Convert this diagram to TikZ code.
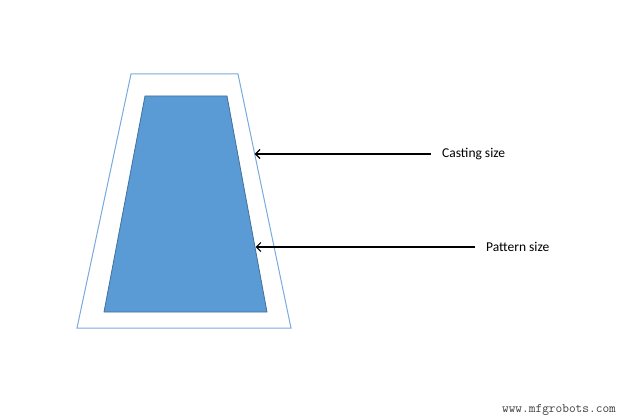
\documentclass[tikz,border=0pt]{standalone}
\usepackage{fontspec}
\setmainfont{Carlito}
\usepackage[x11names]{xcolor}
\usetikzlibrary{arrows.meta}
\tikzset{>={Straight Barb[length=4.5pt,width=9pt]}}
\definecolor{fillblue}{RGB}{91,155,213}
\definecolor{edgeblue}{RGB}{65,113,156}
\definecolor{lineblue}{RGB}{120,170,220}
\tikzset{
	sizelabel/.style={inner sep=0pt,anchor=west,font=\fontsize{13.5}{16}\selectfont},
	pointer/.style={->,line width=1.2pt,shorten <=11pt}
}

\begin{document}
\begin{tikzpicture}[x=1pt,y=-1pt]
			\useasboundingbox (0,0) rectangle (630,420);
			% casting outline
			\coordinate (otl) at (131,74);
			\coordinate (otr) at (238,74);
			\coordinate (obr) at (291,328);
			\coordinate (obl) at (77,328);
			% pattern
			\coordinate (itl) at (145,96);
			\coordinate (itr) at (227,96);
			\coordinate (ibr) at (267,312);
			\coordinate (ibl) at (104,312);
			\draw[lineblue,line width=1pt] (otl) -- (otr) -- (obr) -- (obl) -- cycle;
			\draw[edgeblue,fill=fillblue,line width=.8pt] (itl) -- (itr) -- (ibr) -- (ibl) -- cycle;
			% arrow tips on the edges
			\coordinate (ctip) at (254.7,154);
			\coordinate (ptip) at (255.5,247);
			\node[sizelabel] (cast) at (442,154) {Casting size};
			\node[sizelabel] (patt) at (486,247) {Pattern size};
			\draw[pointer] (cast.west) -- (ctip);
			\draw[pointer] (patt.west) -- (ptip);
			\node[font=\ttfamily\fontsize{13}{15}\selectfont,text=black!75] (site) at (559,410) {www.mfgrobots.com};
		\end{tikzpicture}
\end{document}
